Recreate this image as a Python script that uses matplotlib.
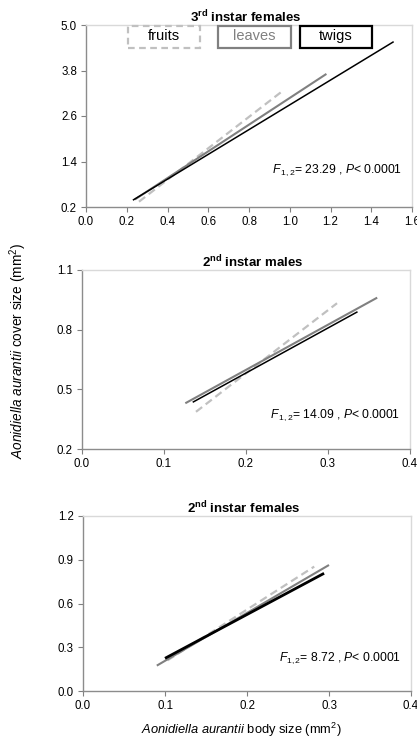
import matplotlib
matplotlib.use("Agg")
import matplotlib.pyplot as plt
from matplotlib import font_manager
from matplotlib.patches import Rectangle

# fonte estreta tipus Arial Narrow si existeix
try:
    font_manager.findfont("Liberation Sans Narrow", fallback_to_default=False)
    FONT = "Liberation Sans Narrow"
except ValueError:
    FONT = "Liberation Sans"

plt.rcParams["font.family"] = [FONT, "DejaVu Sans"]
plt.rcParams["mathtext.fontset"] = "custom"
plt.rcParams["mathtext.rm"] = FONT
plt.rcParams["mathtext.it"] = FONT + ":italic"
plt.rcParams["mathtext.bf"] = FONT + ":bold"

# Rectes de regressió (inici, final) per substrat
substrats = ["fruits", "leaves", "twigs"]

f3_x = {"fruits": [0.26, 0.96], "leaves": [0.24, 1.18], "twigs": [0.23, 1.51]}
f3_y = {"fruits": [0.34, 3.24], "leaves": [0.40, 3.71], "twigs": [0.38, 4.56]}

m2_x = {"fruits": [0.139, 0.311], "leaves": [0.126, 0.360], "twigs": [0.135, 0.336]}
m2_y = {"fruits": [0.387, 0.933], "leaves": [0.430, 0.961], "twigs": [0.435, 0.890]}

f2_x = {"fruits": [0.103, 0.282], "leaves": [0.090, 0.300], "twigs": [0.100, 0.294]}
f2_y = {"fruits": [0.210, 0.853], "leaves": [0.174, 0.864], "twigs": [0.224, 0.807]}

titols = [r"3$^{\mathbf{rd}}$ instar females",
          r"2$^{\mathbf{nd}}$ instar males",
          r"2$^{\mathbf{nd}}$ instar females"]
estadistics = [r"$\mathit{F}_{\mathit{\,1,2}}$= 23.29 , $\mathit{P}$< 0.0001",
               r"$\mathit{F}_{\mathit{\,1,2}}$= 14.09 , $\mathit{P}$< 0.0001",
               r"$\mathit{F}_{\mathit{1,2}}$= 8.72 , $\mathit{P}$< 0.0001"]

xticks = [[0.0, 0.2, 0.4, 0.6, 0.8, 1.0, 1.2, 1.4, 1.6],
          [0.0, 0.1, 0.2, 0.3, 0.4],
          [0.0, 0.1, 0.2, 0.3, 0.4]]
yticks = [[0.2, 1.4, 2.6, 3.8, 5.0],
          [0.2, 0.5, 0.8, 1.1],
          [0.0, 0.3, 0.6, 0.9, 1.2]]

estils = {
    "fruits": dict(color="#c0c0c0", lw=1.6, ls=(0, (3.5, 2))),
    "leaves": dict(color="#808080", lw=1.5, ls="-"),
    "twigs": dict(color="black", lw=1.1, ls="-"),
}

W, H = 417, 749
fig = plt.figure(figsize=(W / 100, H / 100), dpi=100)

# posicions en píxels: esquerra, dreta, dalt, baix
caixes = [(86, 412, 25, 207), (82, 410, 270, 449), (83, 411, 516, 691)]
eixos = []
for (l, r, t, b) in caixes:
    ax = fig.add_axes([l / W, 1 - b / H, (r - l) / W, (b - t) / H])
    eixos.append(ax)

dades = [(f3_x, f3_y), (m2_x, m2_y), (f2_x, f2_y)]
text_pos = [(0.97, 0.20), (0.97, 0.19), (0.97, 0.19)]
titol_x = [0.49, 0.52, 0.49]

for i, ax in enumerate(eixos):
    xs, ys = dades[i]
    for s in substrats:
        st = dict(estils[s])
        if i == 2 and s == "twigs":
            st["lw"] = 2.0
        ax.plot(xs[s], ys[s], solid_capstyle="butt", dash_capstyle="butt", **st)

    ax.set_xlim(xticks[i][0], xticks[i][-1])
    ax.set_ylim(yticks[i][0], yticks[i][-1])
    ax.set_xticks(xticks[i])
    ax.set_yticks(yticks[i])
    ax.set_xticklabels([f"{v:.1f}" for v in xticks[i]])
    ax.set_yticklabels([f"{v:.1f}" for v in yticks[i]])
    ax.tick_params(labelsize=8.3, length=3.5, width=0.8, color="#808080", pad=3)

    for sp in ["left", "bottom"]:
        ax.spines[sp].set_color("#8c8c8c")
        ax.spines[sp].set_linewidth(1.0)
    for sp in ["top", "right"]:
        ax.spines[sp].set_color("#d9d9d9")
        ax.spines[sp].set_linewidth(1.0)

    ax.set_title(titols[i], fontsize=9.5, fontweight="bold", x=titol_x[i], pad=2)
    ax.text(text_pos[i][0], text_pos[i][1], estadistics[i], transform=ax.transAxes,
            ha="right", va="center", fontsize=8.7)

# llegenda en forma de caixes de text
ax = eixos[0]
llegenda = [("fruits", 128, 200, "black"), ("leaves", 218, 291, "#808080"),
            ("twigs", 300, 372, "black")]
l, r, t, b = caixes[0]
for nom, x0, x1, col in llegenda:
    ax0 = (x0 - l) / (r - l)
    ax1 = (x1 - l) / (r - l)
    y0 = (b - 48) / (b - t)
    y1 = (b - 26) / (b - t)
    st = estils[nom]
    rect = Rectangle((ax0, y0), ax1 - ax0, y1 - y0, transform=ax.transAxes,
                     fill=True, facecolor="white", edgecolor=st["color"],
                     lw=1.6, ls=(0, (3, 2)) if nom == "fruits" else "-",
                     clip_on=False, zorder=5)
    ax.add_patch(rect)
    ax.text((ax0 + ax1) / 2, (y0 + y1) / 2 + 0.005, nom, transform=ax.transAxes,
            ha="center", va="center", fontsize=10.5, color=col, zorder=6)

fig.text(18 / W, 1 - 351 / H,
         r"$\mathit{Aonidiella\ aurantii}$ cover size (mm$^2$)",
         rotation=90, ha="center", va="center", fontsize=9.8)
fig.text(241 / W, 1 - 730 / H,
         r"$\mathit{Aonidiella\ aurantii}$ body size (mm$^2$)",
         ha="center", va="center", fontsize=9.3)

fig.savefig("out.png", dpi=100)
